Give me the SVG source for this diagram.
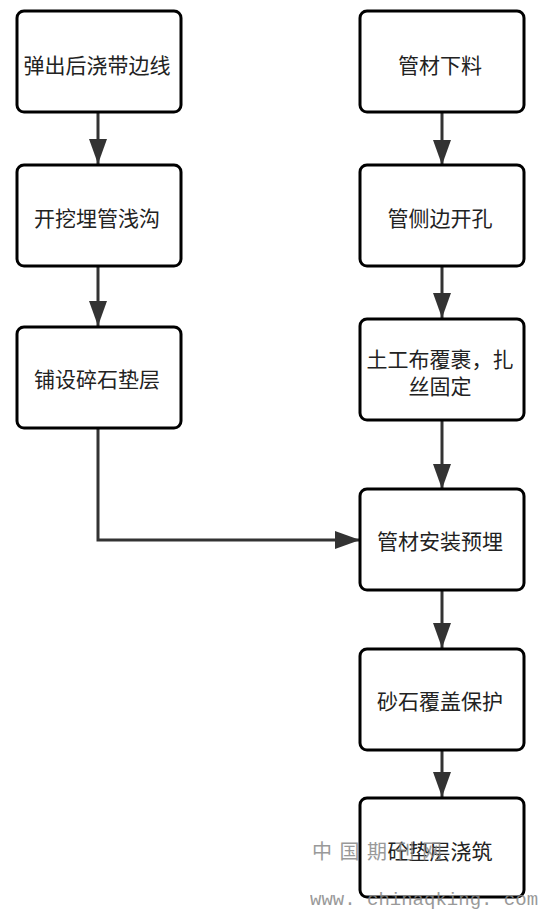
<svg xmlns="http://www.w3.org/2000/svg" width="540" height="911" viewBox="0 0 540 911">
<style>
.box{fill:#fff;stroke:#000;stroke-width:3}
.lbl{font-family:"Noto Sans CJK SC","Noto Sans CJK JP",sans-serif;font-size:21px;fill:#222;text-anchor:middle;dominant-baseline:central}
.con{fill:none;stroke:#333;stroke-width:3}
.wm{fill:#888;opacity:0.85}
</style>
<defs>
<marker id="ah" markerUnits="userSpaceOnUse" markerWidth="26" markerHeight="18" refX="25" refY="9" orient="auto">
<path d="M0,0 L25,9 L0,18 Z" fill="#333"/>
</marker>
</defs>
<rect width="540" height="911" fill="#fff"/>
<g id="connectors">
<path class="con" d="M98,113 V164" marker-end="url(#ah)"/>
<path class="con" d="M98,267 V326" marker-end="url(#ah)"/>
<path class="con" d="M98,429 V540 H360" marker-end="url(#ah)"/>
<path class="con" d="M442,113 V165" marker-end="url(#ah)"/>
<path class="con" d="M442,267 V318" marker-end="url(#ah)"/>
<path class="con" d="M442,421 V489" marker-end="url(#ah)"/>
<path class="con" d="M442,591 V648" marker-end="url(#ah)"/>
<path class="con" d="M442,750 V797" marker-end="url(#ah)"/>
</g>
<g id="n1"><rect class="box" x="17" y="11" width="164" height="101" rx="7"/><text class="lbl" x="97" y="64">弹出后浇带边线</text></g>
<g id="n2"><rect class="box" x="17" y="165" width="164" height="101" rx="7"/><text class="lbl" x="97" y="217">开挖埋管浅沟</text></g>
<g id="n3"><rect class="box" x="17" y="327" width="164" height="101" rx="7"/><text class="lbl" x="97" y="378">铺设碎石垫层</text></g>
<g id="n4"><rect class="box" x="360" y="11" width="164" height="101" rx="7"/><text class="lbl" x="440" y="64">管材下料</text></g>
<g id="n5"><rect class="box" x="360" y="165" width="164" height="101" rx="7"/><text class="lbl" x="440" y="217">管侧边开孔</text></g>
<g id="n6"><rect class="box" x="360" y="319" width="164" height="101" rx="7"/><text class="lbl" x="440" y="358">土工布覆裹，扎</text><text class="lbl" x="440" y="385">丝固定</text></g>
<g id="n7"><rect class="box" x="360" y="489" width="164" height="101" rx="7"/><text class="lbl" x="440" y="540">管材安装预埋</text></g>
<g id="n8"><rect class="box" x="360" y="649" width="164" height="101" rx="7"/><text class="lbl" x="440" y="700">砂石覆盖保护</text></g>
<g id="n9"><rect class="box" x="360" y="798" width="164" height="99" rx="7"/><text class="lbl" x="440" y="850">砼垫层浇筑</text></g>
<g id="watermark" class="wm">
<text x="312" y="859" font-family="'Noto Sans CJK SC',sans-serif" font-size="20" letter-spacing="7.5">中国期刊网</text>
<text x="310" y="905" font-family="'Liberation Mono',monospace" font-size="19">www. chinaqking. com</text>
</g>
</svg>
